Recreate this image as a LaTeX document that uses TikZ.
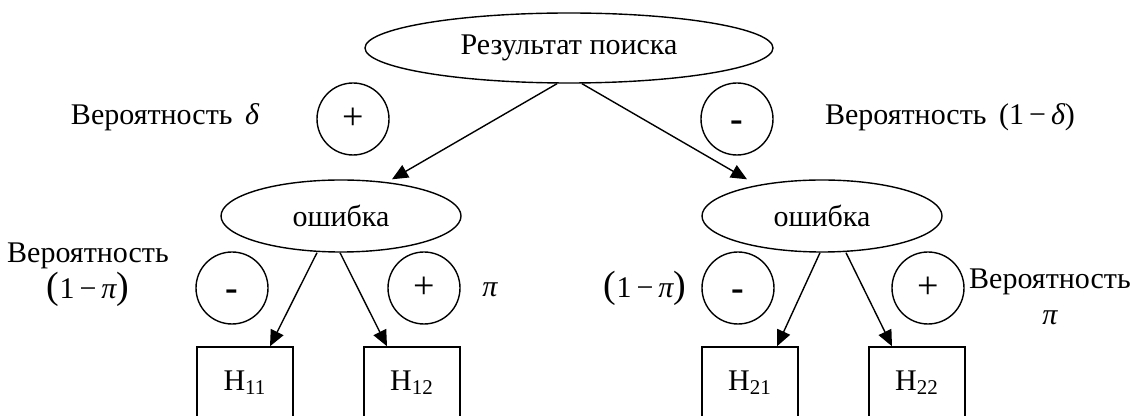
\documentclass[tikz,border=0pt]{standalone}
\usepackage{fontspec}
\setmainfont{Liberation Serif}
\usepackage{tikz}
\usetikzlibrary{positioning, arrows.meta, shapes.geometric, calc}
\tikzset{
	vertex/.style = {draw, ellipse, inner sep=0pt, minimum width=120pt, minimum height=36pt},
	sign/.style = {draw, circle, inner sep=0pt, minimum size=36pt, font=\fontsize{19}{19}\selectfont},
	leaf/.style = {draw, rectangle, inner sep=0pt, minimum width=48pt, minimum height=36pt},
	arrow/.style = {-{Triangle[length=8pt,width=7pt]}}
}
\newcommand{\bigparen}[1]{{\fontsize{19}{19}\selectfont(}#1{\fontsize{19}{19}\selectfont)}}
\newcommand{\negsign}{\vphantom{(}\raisebox{-1.5pt}{\textbf{-}}}

\begin{document}
\begin{tikzpicture}[x=0.5pt, y=-0.5pt, line width=0.7pt, font=\fontsize{15}{18}\selectfont]
	\useasboundingbox (0,0) rectangle (1136,416);
	
	% Wurzel und Fehler-Knoten
	\node[vertex, minimum width=204pt, minimum height=35pt] (root) at (569,48) {Результат поиска};
	\node[vertex] (errL) at (341,216) {ошибка};
	\node[vertex] (errR) at (822,216) {ошибка};
	
	% Vorzeichen
	\node[sign] (pL) at (353,119) {+};
	\node[sign] (mR) at (737,119) {\negsign};
	\node[sign] (mLL) at (232,288) {\negsign};
	\node[sign] (pLR) at (424,288) {+};
	\node[sign] (mRL) at (738,288) {\negsign};
	\node[sign] (pRR) at (928,288) {+};
	
	% Hypothesen
	\node[leaf] (H11) at (245,383) {H\textsubscript{11}};
	\node[leaf] (H12) at (412,383) {H\textsubscript{12}};
	\node[leaf] (H21) at (750,383) {H\textsubscript{21}};
	\node[leaf] (H22) at (917,383) {H\textsubscript{22}};
	
	% Wahrscheinlichkeiten
	\node (probD) at (165,117) {Вероятность \,{\itshape δ}};
	\node (probND) at (950,117) {Вероятность \,(1\,−\,{\itshape δ})};
	\node[align=center] (probPiL) at (88,275) {Вероятность\\\bigparen{1\,−\,{\itshape π}}};
	\node (piL) at (490,290) {{\itshape π}};
	\node (npiR) at (645,288) {\bigparen{1\,−\,{\itshape π}}};
	\node[align=center] (probPiR) at (1050,297) {Вероятность\\{\itshape π}};
	
	\draw[arrow] ($(root.south)+(-12,0)$) -- ($(errL.north)+(51,0)$);
	\draw[arrow] ($(root.south)+(13,0)$) -- ($(errR.north)+(-75,0)$);
	\draw[arrow] ($(errL.south)+(-24,0)$) -- ($(H11.north)+(25,0)$);
	\draw[arrow] ($(errL.south)+(-1,0)$) -- ($(H12.north)+(-25,0)$);
	\draw[arrow] ($(errR.south)+(-2,0)$) -- ($(H21.north)+(27,0)$);
	\draw[arrow] ($(errR.south)+(24,0)$) -- ($(H22.north)+(-25,0)$);
\end{tikzpicture}
\end{document}
